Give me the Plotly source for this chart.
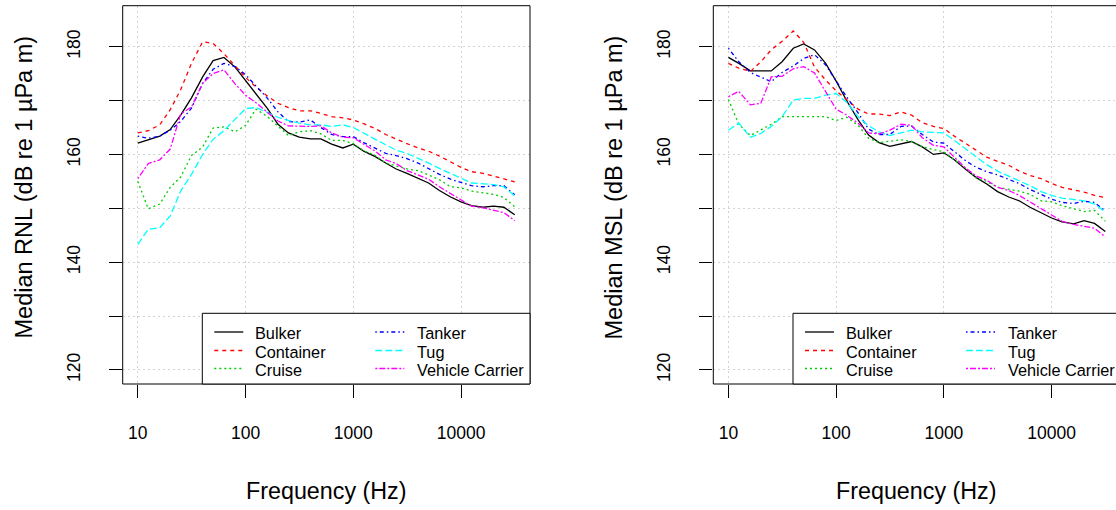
import plotly.graph_objects as go

W, H = 1116, 510

# ---------------- data ----------------
freq_hz = [10, 12.5, 16, 20, 25, 31.5, 40, 50, 63, 80, 100, 125, 160, 200, 250, 315,
           400, 500, 630, 800, 1000, 1250, 1600, 2000, 2500, 3150, 4000, 5000, 6300,
           8000, 10000, 12500, 16000, 20000, 25000, 31500]

ship_types = ["Bulker", "Container", "Cruise", "Tanker", "Tug", "Vehicle Carrier"]

# Median RNL (left panel)
rnl_bulker = [162.1, 162.7, 163.4, 164.6, 167.3, 170.5, 174.4, 177.4, 178.0, 176.2, 173.7, 171.4,
              168.5, 165.6, 164.0, 163.2, 162.9, 162.9, 161.9, 161.2, 161.9, 160.6, 159.6, 158.4,
              157.3, 156.5, 155.6, 154.7, 153.3, 152.1, 151.2, 150.5, 150.2, 150.4, 150.2, 148.8]
rnl_container = [164.0, 164.4, 165.5, 168.3, 172.0, 176.9, 180.9, 180.6, 178.7, 176.4, 174.3, 172.5,
                 170.8, 169.5, 168.7, 168.1, 168.1, 167.6, 167.0, 166.8, 166.4, 165.7, 164.8, 163.7,
                 162.8, 162.0, 161.2, 160.6, 159.7, 158.6, 157.6, 156.8, 156.5, 156.0, 155.4, 154.9]
rnl_cruise = [155.0, 149.9, 150.8, 153.9, 155.8, 159.8, 161.4, 164.9, 165.1, 164.2, 165.4, 168.4,
              167.0, 165.2, 163.5, 164.2, 164.4, 163.8, 162.6, 162.6, 162.0, 160.7, 159.8, 158.4,
              157.9, 157.3, 157.0, 156.2, 155.3, 154.0, 153.8, 153.2, 152.9, 152.6, 152.0, 150.3]
rnl_tanker = [163.4, 163.0, 163.4, 164.5, 166.1, 168.6, 173.2, 175.8, 176.9, 176.3, 174.8, 172.7,
              170.4, 167.9, 166.1, 166.0, 166.4, 165.0, 163.7, 163.3, 163.3, 162.2, 161.1, 160.2,
              159.8, 159.2, 158.4, 157.3, 156.3, 155.4, 154.8, 154.2, 154.0, 154.2, 154.2, 152.5]
rnl_tug = [143.3, 146.1, 146.4, 148.6, 153.2, 156.3, 160.0, 162.8, 164.4, 166.5, 168.5, 168.7,
           167.8, 166.9, 166.3, 165.8, 165.5, 165.5, 165.2, 165.5, 165.0, 163.9, 162.8, 161.8,
           160.8, 160.2, 159.3, 158.4, 157.4, 156.4, 155.6, 154.7, 154.5, 154.4, 154.0, 152.3]
rnl_vehicle = [155.5, 158.3, 159.0, 161.0, 167.5, 168.8, 173.2, 175.0, 175.7, 173.1, 171.0, 169.6,
               167.8, 166.2, 165.3, 165.2, 165.2, 165.3, 164.0, 163.2, 163.1, 161.9, 160.6, 159.0,
               158.3, 157.0, 156.2, 155.4, 154.0, 152.7, 151.6, 150.4, 150.1, 149.7, 149.2, 147.7]

# Median MSL (right panel)
msl_bulker = [178.0, 176.9, 175.5, 175.5, 175.5, 177.2, 179.7, 180.5, 179.4, 176.9, 173.6, 170.0,
              166.4, 163.6, 162.2, 161.5, 162.0, 162.4, 161.4, 160.0, 160.3, 159.0, 157.2, 155.7,
              154.5, 153.1, 152.1, 151.4, 150.2, 149.2, 148.2, 147.5, 147.1, 147.7, 147.2, 145.7]
msl_container = [176.9, 176.0, 175.4, 177.2, 179.4, 181.0, 182.9, 180.8, 176.2, 173.8, 171.8, 170.2,
                 168.4, 167.5, 167.5, 167.2, 167.9, 167.3, 165.9, 165.2, 164.8, 163.4, 162.0, 160.6,
                 159.5, 158.7, 158.0, 156.9, 156.1, 155.5, 154.6, 153.9, 153.4, 153.0, 152.4, 152.0]
msl_cruise = [170.2, 165.6, 163.5, 164.6, 165.6, 167.0, 167.0, 167.0, 167.1, 167.0, 166.3, 166.9,
              165.4, 163.0, 162.2, 162.4, 162.7, 162.4, 161.4, 160.9, 160.5, 159.0, 157.4, 155.6,
              155.0, 153.9, 153.6, 153.2, 152.6, 151.4, 151.2, 150.5, 149.9, 149.4, 149.6, 147.6]
msl_tanker = [179.7, 177.2, 175.2, 174.4, 173.5, 175.2, 176.4, 177.8, 178.5, 176.6, 173.6, 170.7,
              167.7, 164.7, 163.7, 163.7, 165.2, 165.3, 163.7, 162.3, 162.1, 160.5, 158.8, 157.6,
              156.8, 156.2, 155.3, 154.6, 153.5, 152.5, 151.7, 151.1, 150.9, 151.3, 151.1, 149.5]
msl_tug = [164.5, 165.8, 163.2, 163.9, 165.2, 167.0, 170.1, 170.4, 170.4, 171.0, 171.3, 169.7,
           167.0, 165.3, 164.2, 163.5, 164.0, 164.5, 164.2, 164.1, 164.0, 162.6, 161.0, 159.5,
           158.1, 156.9, 156.0, 155.1, 154.2, 153.1, 152.4, 151.9, 151.6, 151.4, 150.8, 149.3]
msl_vehicle = [170.7, 171.7, 169.2, 169.5, 174.4, 174.5, 175.9, 176.3, 175.1, 171.5, 168.4, 167.3,
               165.8, 164.0, 163.8, 164.5, 165.6, 165.4, 163.1, 161.7, 161.4, 159.5, 157.4, 156.0,
               155.2, 153.9, 153.3, 152.4, 151.2, 149.9, 148.8, 147.6, 147.0, 146.7, 146.3, 144.7]

x_ticks = [10, 100, 1000, 10000]
x_tick_labels = ["10", "100", "1000", "10000"]
y_ticks = [120, 130, 140, 150, 160, 170, 180]
y_tick_labels = ["120", "", "140", "", "160", "", "180"]

rnl_series = [rnl_bulker, rnl_container, rnl_cruise, rnl_tanker, rnl_tug, rnl_vehicle]
msl_series = [msl_bulker, msl_container, msl_cruise, msl_tanker, msl_tug, msl_vehicle]

# ---------------- styles ----------------
colors = ["#000000", "#FF0000", "#00CD00", "#0000FF", "#00FFFF", "#FF00FF"]
dashes = ["solid", "4px,4px", "2px,3px", "1.5px,3px,4px,3px", "7px,3px", "2px,2px,6px,2px"]
FONT = "Liberation Sans, Arial, sans-serif"
LW = 1.3

# panel geometry (pixels)
PX_PER_DEC = 107.75
X_RANGE = [0.86, 4.64]
Y_RANGE = [117.4, 187.6]
TOP, BOT = 5.7, 384.0
L_LEFT, L_RIGHT = 122.7, 530.0
R_LEFT = 713.3
R_RIGHT = R_LEFT + (X_RANGE[1] - X_RANGE[0]) * PX_PER_DEC  # extends beyond canvas


def px(x):
    return x / W


def py(y):
    return 1 - y / H


fig = go.Figure()
for i, name in enumerate(ship_types):
    fig.add_trace(go.Scatter(x=freq_hz, y=rnl_series[i], mode="lines", name=name,
                             line=dict(color=colors[i], dash=dashes[i], width=LW),
                             xaxis="x", yaxis="y", showlegend=False))
    fig.add_trace(go.Scatter(x=freq_hz, y=msl_series[i], mode="lines", name=name,
                             line=dict(color=colors[i], dash=dashes[i], width=LW),
                             xaxis="x2", yaxis="y2", showlegend=False))

axis_common = dict(ticks="outside", ticklen=13, tickwidth=1, tickcolor="#000000",
                   showgrid=True, gridcolor="#D3D3D3", griddash="2px,3px", gridwidth=1,
                   zeroline=False, showline=False,
                   tickfont=dict(family=FONT, size=17.5, color="#000000"))

xaxis_common = dict(type="log", tickmode="array", tickvals=x_ticks, ticktext=x_tick_labels,
                    ticklabelstandoff=20, **axis_common)
yaxis_common = dict(range=Y_RANGE, tickmode="array", tickvals=y_ticks, ticktext=y_tick_labels,
                    tickangle=-90, ticklabelstandoff=22,
                    domain=[py(BOT), py(TOP)], **axis_common)

right_xmax = X_RANGE[0] + (W - R_LEFT) / PX_PER_DEC

fig.update_layout(
    width=W, height=H,
    margin=dict(l=0, r=0, t=0, b=0),
    paper_bgcolor="white", plot_bgcolor="white",
    font=dict(family=FONT, color="#000000"),
    xaxis=dict(domain=[px(L_LEFT), px(L_RIGHT)], range=X_RANGE, anchor="y", **xaxis_common),
    yaxis=dict(anchor="x", **yaxis_common),
    xaxis2=dict(domain=[px(R_LEFT), 1.0], range=[X_RANGE[0], right_xmax], anchor="y2", **xaxis_common),
    yaxis2=dict(anchor="x2", **yaxis_common),
)

shapes = []
annotations = []

# plot frames
for x0, x1 in [(L_LEFT, L_RIGHT), (R_LEFT, R_RIGHT)]:
    shapes.append(dict(type="rect", xref="paper", yref="paper",
                       x0=px(x0), x1=px(x1), y0=py(BOT), y1=py(TOP),
                       line=dict(color="#000000", width=1), fillcolor="rgba(0,0,0,0)", layer="above"))

# legends (R-style two-column box at bottom right)
LEG_TOP = 313.3
row_y = [332.0, 350.5, 368.5]
for box_left, box_right in [(202.3, L_RIGHT), (793.0, R_RIGHT)]:
    shapes.append(dict(type="rect", xref="paper", yref="paper",
                       x0=px(box_left), x1=px(box_right), y0=py(BOT), y1=py(LEG_TOP),
                       line=dict(color="#000000", width=1), fillcolor="white", layer="above"))
    for i, name in enumerate(ship_types):
        col, row = divmod(i, 3)
        lx0 = box_left + 12 + col * 161
        lx1 = lx0 + 29
        tx = box_left + 51 + col * 162
        yy = row_y[row]
        shapes.append(dict(type="line", xref="paper", yref="paper",
                           x0=px(lx0), x1=px(lx1), y0=py(yy), y1=py(yy),
                           line=dict(color=colors[i], dash=dashes[i], width=LW), layer="above"))
        annotations.append(dict(xref="paper", yref="paper", x=px(tx), y=py(yy + 1),
                                text=name, showarrow=False, xanchor="left", yanchor="middle",
                                font=dict(family=FONT, size=16.3, color="#000000")))

# axis titles
for cx in [(L_LEFT + L_RIGHT) / 2, (R_LEFT + R_RIGHT) / 2]:
    annotations.append(dict(xref="paper", yref="paper", x=px(cx), y=py(491),
                            text="Frequency (Hz)", showarrow=False, xanchor="center", yanchor="middle",
                            font=dict(family=FONT, size=23.3, color="#000000")))
for cx, label in [(23, "Median RNL (dB re 1 µPa m)"), (613, "Median MSL (dB re 1 µPa m)")]:
    annotations.append(dict(xref="paper", yref="paper", x=px(cx), y=py(187.5),
                            text=label, showarrow=False, textangle=-90,
                            xanchor="center", yanchor="middle",
                            font=dict(family=FONT, size=23.5, color="#000000")))

fig.update_layout(shapes=shapes, annotations=annotations)

fig.write_html("out.html", config={"displayModeBar": False})
